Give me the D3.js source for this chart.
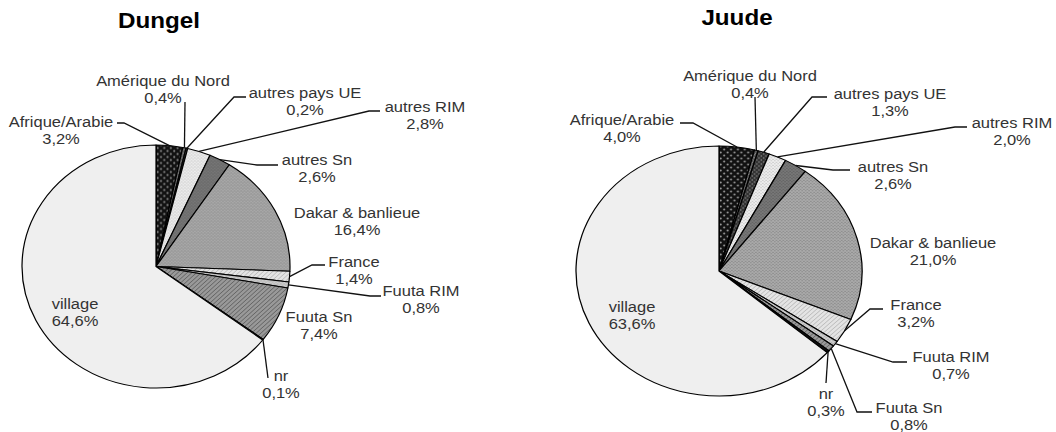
<!DOCTYPE html>
<html>
<head>
<meta charset="utf-8">
<script src="https://cdn.jsdelivr.net/npm/d3@7"></script>
<style>
  body { margin: 0; background: #fff; }
  svg { display: block; font-family: "Liberation Sans", Arial, sans-serif; }
</style>
</head>
<body>
<div class="container"></div>
<script>
// categories, clockwise from 12 o'clock
var categories = ["Afrique/Arabie", "Amérique du Nord", "autres pays UE", "autres RIM", "autres Sn",
  "Dakar & banlieue", "France", "Fuuta RIM", "Fuuta Sn", "nr", "village"];
var dungelValues = [3.2, 0.4, 0.2, 2.8, 2.6, 16.4, 1.4, 0.8, 7.4, 0.1, 64.6];
var juudeValues  = [4.0, 0.4, 1.3, 2.0, 2.6, 21.0, 3.2, 0.7, 0.8, 0.3, 63.6];
var titles = ["Dungel", "Juude"];

// label layout: [textX, textY, [dashX, elbowX, lineY]] (null = no leader)
var dungelLabels = [
  [61, 122, [117, 124, 123]],
  [163, 81, [185, 185, 102]],
  [305, 93, [246, 234, 97]],
  [425, 107, [380, 369, 111]],
  [317, 160, [278, 257, 165]],
  [357, 213, null],
  [354, 262, [325, 312, 265]],
  [421, 291, [381, 370, 296]],
  [319, 317, null],
  [281, 376, [268, 268, 378]],
  [75, 304, null]
];
var juudeLabels = [
  [622, 120, [680, 693, 123]],
  [750, 76, [755, 755, 97]],
  [890, 94, [827, 812, 97]],
  [1012, 123, [967, 955, 127]],
  [893, 167, [850, 833, 170]],
  [933, 243, null],
  [916, 305, [883, 870, 309]],
  [951, 357, [907, 893, 362]],
  [909, 408, [872, 857, 412]],
  [826, 394, [826, 826, 383]],
  [632, 307, null]
];

var W = 1056, H = 432;
var svg = d3.select(".container").append("svg").attr("width", W).attr("height", H);
var defs = svg.append("defs");

function dots(id, bg, fg, size, r) {
  var p = defs.append("pattern").attr("id", id).attr("patternUnits", "userSpaceOnUse")
    .attr("width", size).attr("height", size);
  p.append("rect").attr("width", size).attr("height", size).attr("fill", bg);
  p.append("circle").attr("cx", size / 4).attr("cy", size / 4).attr("r", r).attr("fill", fg);
  p.append("circle").attr("cx", size * 3 / 4).attr("cy", size * 3 / 4).attr("r", r).attr("fill", fg);
}
function hatch(id, bg, fg, size, w) {
  var p = defs.append("pattern").attr("id", id).attr("patternUnits", "userSpaceOnUse")
    .attr("width", size).attr("height", size).attr("patternTransform", "rotate(45)");
  p.append("rect").attr("width", size).attr("height", size).attr("fill", bg);
  p.append("line").attr("x1", 0).attr("y1", 0).attr("x2", 0).attr("y2", size)
    .attr("stroke", fg).attr("stroke-width", w);
}
dots("pAfr", "#111", "#999", 6, 0.9);
dots("pAm", "#555", "#bbb", 3, 0.5);
dots("pUE", "#333", "#888", 4, 0.7);
dots("pRIM", "#eee", "#aaa", 3, 0.5);
dots("pSn", "#777", "#555", 3, 0.6);
dots("pDak", "#aaa", "#7a7a7a", 3, 0.6);
hatch("pFr", "#e4e4e4", "#999", 3, 0.8);
dots("pFR", "#d0d0d0", "#888", 3, 0.5);
hatch("pFS", "#999", "#4a4a4a", 3, 1);

var fills = ["url(#pAfr)", "url(#pAm)", "url(#pUE)", "url(#pRIM)", "url(#pSn)", "url(#pDak)",
  "url(#pFr)", "url(#pFR)", "url(#pFS)", "#111", "#efefef"];
var color = d3.scaleOrdinal().domain(categories).range(fills);

var pies = [
  { title: titles[0], values: dungelValues, labels: dungelLabels, cx: 156, cy: 266.5, rx: 134, ry: 121.5, tx: 159, ty: 28 },
  { title: titles[1], values: juudeValues, labels: juudeLabels, cx: 719, cy: 271, rx: 143, ry: 125, tx: 737, ty: 25 }
];

var sx = 1.1;
var fmt = function(v) { return d3.format(".1f")(v).replace(".", ",") + "%"; };

pies.forEach(function(P) {
  var data = categories.map(function(c, i) { return { cat: c, value: P.values[i], lab: P.labels[i] }; });
  var arcs = d3.pie().sort(null).value(function(d) { return d.value; })(data);
  var arc = d3.arc().innerRadius(0).outerRadius(P.ry);

  var g = svg.append("g").attr("transform", "translate(" + P.cx + "," + P.cy + ") scale(" + (P.rx / P.ry) + ",1)");
  g.selectAll("path").data(arcs).enter().append("path")
    .attr("d", arc)
    .attr("fill", function(d) { return color(d.data.cat); })
    .attr("stroke", "#000")
    .attr("stroke-width", 1.1)
    .attr("stroke-linejoin", "round");

  // leader lines
  svg.append("g").selectAll("path").data(arcs.filter(function(d) { return d.data.lab[2]; }))
    .enter().append("path")
    .attr("fill", "none").attr("stroke", "#111").attr("stroke-width", 1.3)
    .attr("d", function(d) {
      var a = (d.startAngle + d.endAngle) / 2;
      var L = d.data.lab[2];
      var p0 = [P.cx + P.rx * Math.sin(a), P.cy - P.ry * Math.cos(a)];
      return d3.line()([p0, [L[1], L[2]], [L[0], L[2]]]);
    });

  // labels
  var t = svg.append("g").selectAll("text").data(arcs).enter().append("text")
    .attr("transform", function(d) { return "translate(" + d.data.lab[0] + "," + d.data.lab[1] + ") scale(" + sx + ",1)"; })
    .attr("text-anchor", "middle")
    .attr("font-size", 15)
    .attr("fill", "#333");
  t.append("tspan").attr("x", 0).attr("dy", "0.35em").text(function(d) { return d.data.cat; });
  t.append("tspan").attr("x", 0).attr("dy", 17).text(function(d) { return fmt(d.data.value); });

  svg.append("text")
    .attr("transform", "translate(" + P.tx + "," + P.ty + ") scale(" + sx + ",1)")
    .attr("text-anchor", "middle")
    .attr("font-size", 22).attr("font-weight", "bold").attr("fill", "#000")
    .text(P.title);
});
</script>
</body>
</html>
